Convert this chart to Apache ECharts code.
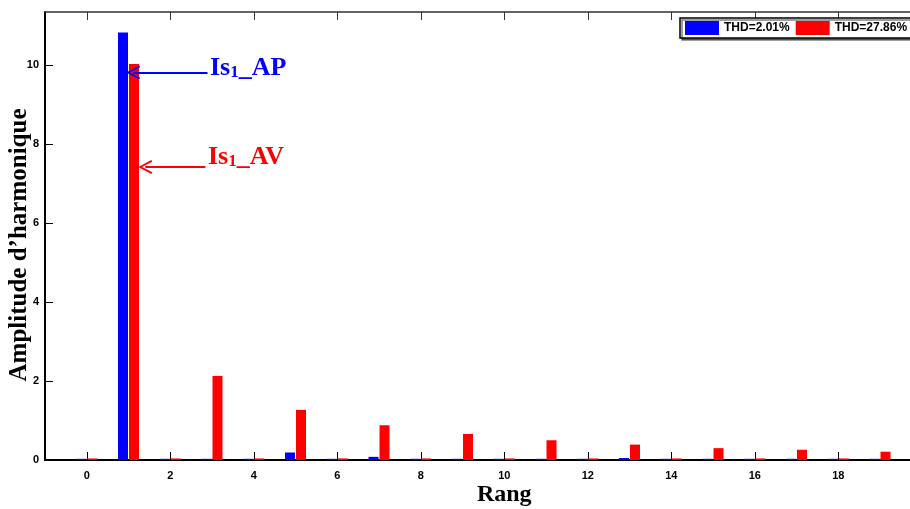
<!DOCTYPE html>
<html><head><meta charset="utf-8">
<script src="https://cdn.jsdelivr.net/npm/echarts@6/dist/echarts.min.js"></script>
<style>html,body{margin:0;padding:0;background:#fff}#c{width:910px;height:509px}</style>
</head><body><div id="c"></div>
<script>
const harmonics = [0,1,2,3,4,5,6,7,8,9,10,11,12,13,14,15,16,17,18,19];
const blueValues = [0.03,10.83,0.03,0.03,0.03,0.19,0.03,0.08,0.03,0.03,0.03,0.03,0.03,0.05,0.03,0.03,0.03,0.03,0.03,0.03];
const redValues  = [0.04,10.03,0.04,2.13,0.04,1.27,0.04,0.88,0.04,0.66,0.04,0.50,0.04,0.39,0.04,0.30,0.04,0.26,0.04,0.21];
const seriesNames = ['THD=2.01%','THD=27.86%'];
const xTicks = [0,2,4,6,8,10,12,14,16,18,20];
const yTicks = [0,2,4,6,8,10];

const chart = echarts.init(document.getElementById('c'));
const tickFont = {fontFamily:'Liberation Sans', fontWeight:'bold', fontSize:11, color:'#000'};
const serif = 'Liberation Serif';
const chevron = 'path://M0,12 L6,0 L12,12 L10.5,12.8 L6,3.5 L1.5,12.8 Z';
chart.setOption({
  animation:false,
  grid:{left:45, top:12, bottom:49, right:-53.5, containLabel:false, outerBoundsMode:'none'},
  legend:{
    data:seriesNames, left:680, top:18, width:320, orient:'horizontal',
    itemWidth:34, itemHeight:14, itemGap:6,
    padding:[3,5,3,5],
    borderColor:'#000', borderWidth:1.5, backgroundColor:'#fff',
    shadowColor:'rgba(0,0,0,0.5)', shadowOffsetX:2, shadowOffsetY:2, shadowBlur:0,
    textStyle:{fontFamily:'Liberation Sans', fontWeight:'bold', fontSize:12, color:'#000'},
    icon:'rect'
  },
  xAxis:[{
    type:'value', min:-1, max:21, position:'bottom',
    name:'Rang', nameLocation:'middle', nameGap:23, nameMoveOverlap:false,
    nameTextStyle:{fontFamily:serif, fontWeight:'bold', fontSize:24, color:'#000'},
    axisLine:{onZero:false, lineStyle:{color:'#000', width:2}},
    axisTick:{inside:true, length:8, customValues:xTicks, lineStyle:{color:'#000', width:1}},
    axisLabel:{customValues:xTicks, margin:10, ...tickFont},
    splitLine:{show:false}
  },{
    type:'value', min:-1, max:21, position:'top',
    axisLine:{onZero:false, lineStyle:{color:'#333', width:1.5}},
    axisTick:{inside:true, length:8, customValues:xTicks, lineStyle:{color:'#333', width:1}},
    axisLabel:{show:false}, splitLine:{show:false}
  }],
  yAxis:{
    type:'value', min:0, max:11.35,
    name:"Amplitude d’harmonique", nameLocation:'middle', nameGap:13, nameMoveOverlap:false,
    nameTextStyle:{fontFamily:serif, fontWeight:'bold', fontSize:25, color:'#000', padding:[0,18,0,0]},
    axisLine:{show:true, onZero:false, lineStyle:{color:'#000', width:2}},
    axisTick:{show:true, inside:true, length:8, customValues:yTicks, lineStyle:{color:'#000', width:1}},
    axisLabel:{customValues:yTicks, margin:6, ...tickFont},
    splitLine:{show:false}
  },
  series:[{
    name:seriesNames[0], type:'bar', xAxisIndex:0, barWidth:10, barGap:'10%',
    itemStyle:{color:'#0000ff'},
    data:harmonics.map((h,i)=>[h, blueValues[i]])
  },{
    name:seriesNames[1], type:'bar', xAxisIndex:0, barWidth:10, barGap:'10%',
    itemStyle:{color:'#ff0000'},
    data:harmonics.map((h,i)=>[h, redValues[i]]),
    markLine:{
      silent:true, symbol:['none',chevron], symbolSize:[14,14],
      lineStyle:{color:'#ff0000', width:2, type:'solid'}, label:{show:false},
      data:[
        [{coord:[2.76,9.82], lineStyle:{color:'#0000ff', width:2}, itemStyle:{color:'#0000ff'}},{coord:[0.98,9.82]}],
        [{coord:[2.71,7.42]},{coord:[1.27,7.42]}]
      ]
    }
  }],
  graphic:[{
    type:'text', left:210, top:55,
    style:{
      text:'{a|Is}{s|1}{a|_AP}',
      rich:{
        a:{fontFamily:serif, fontWeight:'bold', fontSize:26, fill:'#0000ff', color:'#0000ff'},
        s:{fontFamily:serif, fontWeight:'bold', fontSize:17, fill:'#0000ff', color:'#0000ff', padding:[10,0,0,0]}
      }
    }
  },{
    type:'text', left:208, top:144,
    style:{
      text:'{a|Is}{s|1}{a|_AV}',
      rich:{
        a:{fontFamily:serif, fontWeight:'bold', fontSize:26, fill:'#ff0000', color:'#ff0000'},
        s:{fontFamily:serif, fontWeight:'bold', fontSize:17, fill:'#ff0000', color:'#ff0000', padding:[10,0,0,0]}
      }
    }
  }]
});
</script></body></html>
